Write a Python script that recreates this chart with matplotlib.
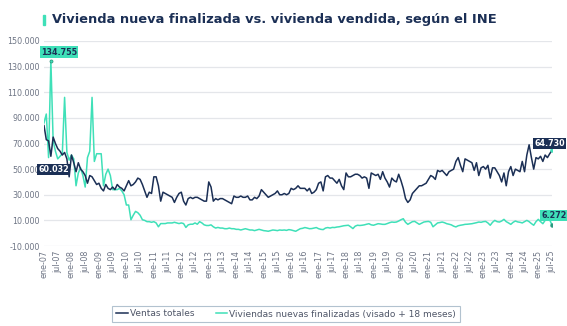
import numpy as np
import matplotlib
matplotlib.use('Agg')
import matplotlib.pyplot as plt

# datos mensuales (miles), ene-07 .. jul-25
ventas = [
    84, 73, 72, 60.032, 75, 70, 66, 64, 61, 63, 58, 44,        # 2007
    61, 55, 48, 55, 50, 48, 45, 39, 45, 44, 41, 38,            # 2008
    39, 35, 33, 38, 35, 34, 36, 34, 38, 36, 35, 33,            # 2009
    37, 41, 37, 38, 40, 43, 42, 38, 33, 28, 32, 31,            # 2010
    44, 44, 37, 25, 32, 31, 30, 29, 28, 24, 28, 31,            # 2011
    32, 25, 22, 27, 28, 27, 28, 28, 27, 26, 25, 25,            # 2012
    40, 36, 25, 27, 26, 27, 27, 26, 25, 24, 23, 29,            # 2013
    28, 28, 29, 28, 28, 29, 26, 26, 28, 27, 29, 34,            # 2014
    32, 30, 28, 29, 30, 31, 33, 30, 30, 31, 30, 31,            # 2015
    35, 34, 35, 37, 35, 35, 35, 33, 35, 31, 32, 34,            # 2016
    39, 40, 33, 44, 45, 43, 43, 41, 39, 42, 37, 34,            # 2017
    47, 44, 44, 45, 46, 46, 45, 43, 44, 43, 35, 47,            # 2018
    46, 45, 46, 42, 48, 43, 40, 36, 43, 41, 40, 46,            # 2019
    41, 35, 27, 24, 26, 31, 33, 35, 37, 37, 38, 39,            # 2020
    42, 45, 44, 42, 49, 48, 49, 47, 45, 48, 49, 50,            # 2021
    56, 59, 53, 48, 58, 57, 56, 55, 49, 55, 45, 51,            # 2022
    52, 50, 53, 43, 51, 51, 48, 45, 40, 47, 37, 48,            # 2023
    52, 45, 50, 49, 48, 56, 48, 61, 69, 59, 50, 59,            # 2024
    58, 60, 56, 61, 59, 62, 64.730,                            # 2025
]

finalizadas = [
    86, 93, 59, 134.755, 72, 64, 58, 60, 62, 106, 63, 57,      # 2007
    61, 58, 37, 47, 51, 45, 36, 59, 64, 106, 56, 62,           # 2008
    62, 62, 37, 46, 50, 45, 34, 34, 34, 35, 33, 30,            # 2009
    22, 22, 10.5, 14, 17, 16, 14, 10.5, 10, 9, 9, 8.5,         # 2010
    9, 8, 5, 7.5, 7.5, 7.5, 8, 8, 8, 8.5, 8, 7.5,              # 2011
    8, 7.5, 4.5, 6.5, 7, 7, 8, 7, 9, 8, 6.5, 6,                # 2012
    6, 6.5, 5, 4, 4.5, 4, 4, 3.5, 3.5, 4, 3.5, 3.5,            # 2013
    3, 3, 2.5, 3, 3.5, 3, 2.5, 2.5, 2, 2.5, 3, 2.5,            # 2014
    2, 1.8, 1.5, 2, 2.5, 2.3, 2, 2.5, 2.3, 2.5, 2.2, 2.8,      # 2015
    2.5, 2, 1.5, 2.5, 3.5, 3.8, 4.4, 4, 3.5, 3.6, 4, 4.4,      # 2016
    3.5, 3, 2.8, 4, 4.4, 4, 4.5, 4.4, 4.8, 5, 5.4, 5.8,        # 2017
    6, 6.2, 5, 3.6, 5.5, 6.2, 6, 6.2, 6.5, 7, 7.4, 6.5,        # 2018
    6.2, 6.8, 7.4, 7.2, 6.9, 6.9, 7.5, 8.2, 8.7, 8.5, 8.7, 9.5,  # 2019
    10.5, 11.3, 8.5, 6.9, 8, 9, 9.2, 8, 6.9, 7.8, 8.7, 9,      # 2020
    9.2, 8.5, 5, 6.5, 8, 8.3, 8.7, 8.2, 7.4, 7, 6.5, 5.5,      # 2021
    4.9, 5.8, 6.2, 6.5, 6.9, 7, 7.2, 7.4, 7.8, 8.2, 8.7, 8.5,  # 2022
    9, 9.2, 8, 6.2, 8.5, 10, 9, 8.7, 9.5, 10.8, 9, 8,          # 2023
    6.9, 8.5, 9.5, 8.8, 8.5, 8, 9, 10, 9, 7.5, 6.2, 9,         # 2024
    10.8, 9, 7.4, 10, 11, 10.5, 6.272,                         # 2025
]

anios = ['07', '08', '09', '10', '11', '12', '13', '14', '15', '16',
         '17', '18', '19', '20', '21', '22', '23', '24', '25']
etiquetas_x = []
for a in anios:
    etiquetas_x += ['ene-' + a, 'jul-' + a]

azul = '#1b2f55'
verde = '#3fe0b8'
gris = '#6e7585'

v = np.array(ventas) * 1000
f = np.array(finalizadas) * 1000
x = np.arange(len(v))

fig = plt.figure(figsize=(5.67, 3.26), dpi=100)
ax = fig.add_axes([44/567, 1 - 246/326, (552 - 44)/567, (246 - 41)/326])

ax.plot(x, v, color=azul, lw=1.1, label='Ventas totales', zorder=3)
ax.plot(x, f, color=verde, lw=1.1, label='Viviendas nuevas finalizadas (visado + 18 meses)', zorder=2)

ax.set_xlim(0, len(v) - 1)
ax.set_ylim(-10000, 150000)
yt = np.arange(-10000, 150001, 20000)
ax.set_yticks(yt)
ax.set_yticklabels([f'{t:,}'.replace(',', '.') for t in yt], fontsize=5.8, color=gris)
ax.set_xticks(np.arange(0, len(v), 6))
ax.set_xticklabels(etiquetas_x, rotation=90, fontsize=5.8, color=gris)
ax.tick_params(length=0, pad=3)
ax.grid(axis='y', color='#e4e6ea', lw=0.9)
ax.set_axisbelow(True)
for s in ax.spines.values():
    s.set_visible(False)

# etiquetas de datos
def etiqueta(i, serie, txt, dx, dy, fondo, color_txt):
    ax.annotate(txt, (i, serie[i]), xytext=(dx, dy), textcoords='offset points',
                ha='center', va='center', fontsize=5.8, fontweight='bold', color=color_txt,
                bbox=dict(boxstyle='square,pad=0.15', fc=fondo, ec='none'),
                annotation_clip=False, zorder=5)

i_pico = int(np.argmax(f))
ax.plot(i_pico, f[i_pico], 'o', ms=2.2, color=verde, mec='#2a8f78', mew=0.5, zorder=4)
ax.plot(x[-1], v[-1], 'o', ms=2.2, color=verde, zorder=4)
ax.plot(x[-1], f[-1], 'o', ms=2.2, color='#2a9c80', zorder=4)
etiqueta(i_pico, f, '134.755', 6, 6, verde, azul)
etiqueta(3, v, '60.032', 2, -9.5, azul, 'white')
etiqueta(len(v) - 1, v, '64.730', -1.5, 5, azul, 'white')
etiqueta(len(f) - 1, f, '6.272', 1.5, 7, verde, azul)

# titulo con barra de acento
fig.patches.append(plt.Rectangle((43/567, 1 - 25/326), 2/567, 10/326,
                                 transform=fig.transFigure, color=verde))
fig.text(52/567, 1 - 20/326, 'Vivienda nueva finalizada vs. vivienda vendida, según el INE',
         fontsize=9.4, fontweight='bold', color=azul, va='center', ha='left')

leg = fig.legend(loc='center', bbox_to_anchor=(286/567, 1 - 314/326), ncol=2,
                 fontsize=6.5, frameon=True, fancybox=False, edgecolor='#9fb3c4',
                 handlelength=1.3, handletextpad=0.2, columnspacing=2.4,
                 borderpad=0.4, labelcolor='#4f5668')
leg.get_frame().set_linewidth(0.8)

plt.savefig('out.png', dpi=100)
